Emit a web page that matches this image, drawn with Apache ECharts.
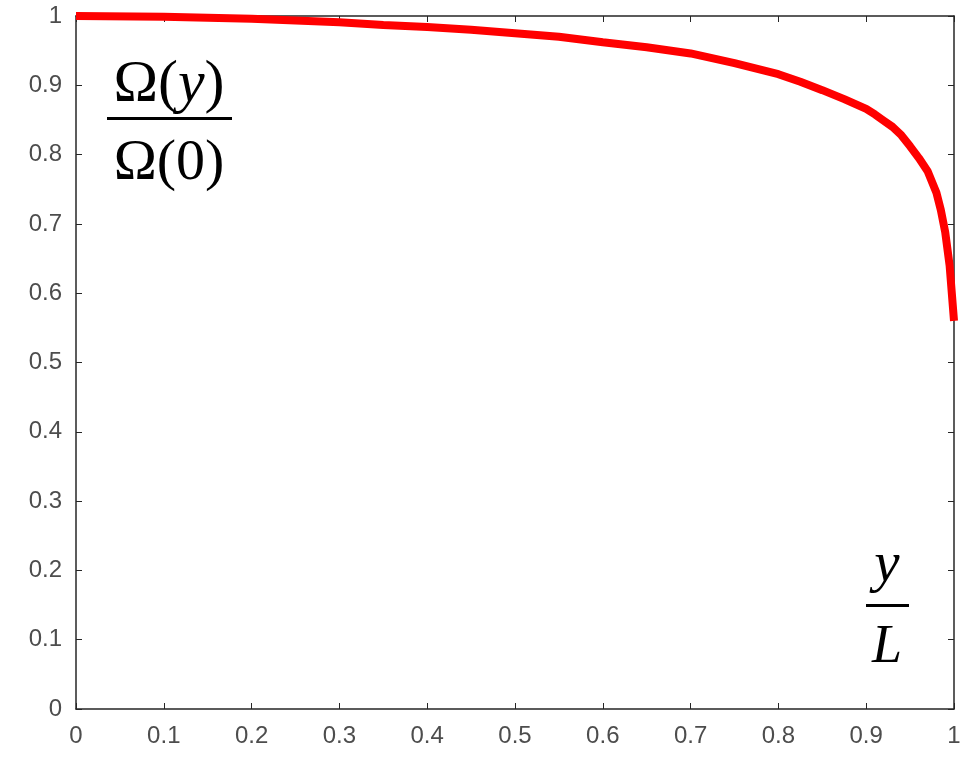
<!DOCTYPE html>
<html><head><meta charset="utf-8">
<script src="https://cdn.jsdelivr.net/npm/echarts@6/dist/echarts.min.js"></script>
<style>html,body{margin:0;padding:0;background:#fff}#c{width:971px;height:765px}</style>
</head><body><div id="c"></div>
<script>
const xValues = [0, 0.1, 0.2, 0.3, 0.35, 0.4, 0.45, 0.5, 0.55, 0.6, 0.65, 0.7, 0.75, 0.8, 0.825, 0.85, 0.875, 0.9, 0.91, 0.92, 0.93, 0.94, 0.95, 0.96, 0.97, 0.98, 0.985, 0.99, 0.995, 1.0];
const ratioValues = [1.0, 0.999, 0.996, 0.991, 0.987, 0.984, 0.980, 0.975, 0.970, 0.962, 0.955, 0.946, 0.932, 0.916, 0.905, 0.893, 0.880, 0.866, 0.858, 0.849, 0.840, 0.828, 0.812, 0.795, 0.776, 0.745, 0.720, 0.688, 0.640, 0.560];
const tickLabels = ['0','0.1','0.2','0.3','0.4','0.5','0.6','0.7','0.8','0.9','1'];

const chart = echarts.init(document.getElementById('c'));
const axisColor = '#262626';
const labelStyle = {color:'#4d4d4d', fontSize:24, fontFamily:'Liberation Sans, Arial, sans-serif'};
const fmt = v => tickLabels[Math.round(v*10)];
const data = xValues.map((x,i)=>[x, ratioValues[i]]);
const serif = '"Liberation Serif", "Times New Roman", serif';
chart.setOption({
  animation:false,
  grid:{left:76, right:17, top:16, bottom:56},
  xAxis:[
    {type:'value', min:0, max:1, interval:0.1, position:'bottom',
     axisLine:{onZero:false,lineStyle:{color:axisColor,width:1.5}},
     axisTick:{inside:true,length:6,lineStyle:{color:axisColor}},
     axisLabel:Object.assign({margin:15, formatter:fmt}, labelStyle),
     splitLine:{show:false}},
    {type:'value', min:0, max:1, interval:0.1, position:'top',
     axisLine:{onZero:false,lineStyle:{color:axisColor,width:1.5}},
     axisTick:{inside:true,length:6,lineStyle:{color:axisColor}},
     axisLabel:{show:false}, splitLine:{show:false}}
  ],
  yAxis:[
    {type:'value', min:0, max:1, interval:0.1, position:'left',
     axisLine:{show:true,onZero:false,lineStyle:{color:axisColor,width:1.5}},
     axisTick:{show:true,inside:true,length:6,lineStyle:{color:axisColor}},
     axisLabel:Object.assign({margin:14, formatter:fmt}, labelStyle),
     splitLine:{show:false}},
    {type:'value', min:0, max:1, interval:0.1, position:'right',
     axisLine:{show:true,onZero:false,lineStyle:{color:axisColor,width:1.5}},
     axisTick:{show:true,inside:true,length:6,lineStyle:{color:axisColor}},
     axisLabel:{show:false}, splitLine:{show:false}}
  ],
  series:[{type:'line', data:data, xAxisIndex:0, yAxisIndex:0, showSymbol:false, smooth:false,
    lineStyle:{color:'#ff0000', width:8, cap:'butt'}, clip:false, z:1}],
  graphic:[
    {type:'text', x:169, y:85, style:{text:'{n|Ω(}{i|y}{n|)}', align:'center', verticalAlign:'middle', rich:{
      n:{fontFamily:serif, fontSize:60, fill:'#000'},
      i:{fontFamily:serif, fontSize:60, fontStyle:'italic', fill:'#000'}}}},
    {type:'rect', shape:{x:107, y:117, width:125, height:3}, style:{fill:'#000'}},
    {type:'text', x:169, y:164, style:{text:'Ω(0)', align:'center', verticalAlign:'middle', font:'58px ' + serif, fill:'#000'}},
    {type:'text', x:887, y:566, style:{text:'y', align:'center', verticalAlign:'middle', font:'italic 57px ' + serif, fill:'#000'}},
    {type:'rect', shape:{x:866, y:604, width:43, height:3}, style:{fill:'#000'}},
    {type:'text', x:887, y:648, style:{text:'L', align:'center', verticalAlign:'middle', font:'italic 54px ' + serif, fill:'#000'}}
  ]
});
</script></body></html>
